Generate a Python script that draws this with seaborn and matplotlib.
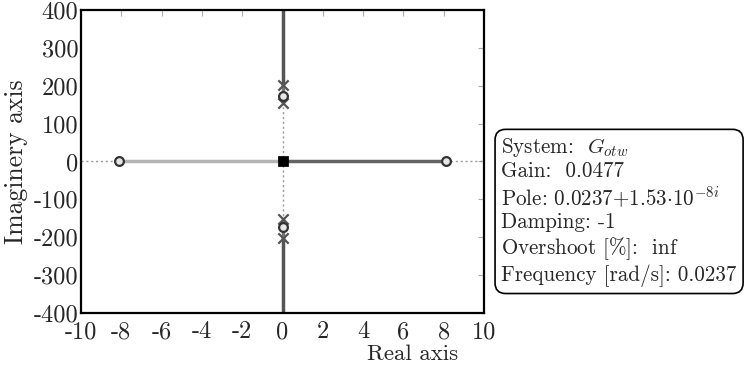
import matplotlib
matplotlib.use("Agg")
import matplotlib.pyplot as plt
import seaborn as sns
import pandas as pd

# Open-loop poles and zeros of G_otw
pole_re = [0.0, 0.0, 0.0, 0.0]
pole_im = [203.0, 153.0, -153.0, -203.0]
zero_re = [-8.1, 8.1, 0.0, 0.0]
zero_im = [0.0, 0.0, 174.0, -174.0]

# Root-locus branches (start/end points in the s-plane)
branch_names = ["left", "right", "up", "down", "up_a", "up_b", "down_a", "down_b"]
branch_re = [[0.0, -8.1], [0.0, 8.1], [0.0, 0.0], [0.0, 0.0],
             [0.0, 0.0], [0.0, 0.0], [0.0, 0.0], [0.0, 0.0]]
branch_im = [[0.0, 0.0], [0.0, 0.0], [203.0, 420.0], [-203.0, -420.0],
             [203.0, 174.0], [153.0, 174.0], [-153.0, -174.0], [-203.0, -174.0]]
branch_colors = ["#b4b4b4", "#636363", "#555555", "#555555",
                 "#777777", "#777777", "#777777", "#777777"]

# Selected closed-loop pole
sel_re = [0.0237]
sel_im = [1.53e-8]

x_ticks = [-10, -8, -6, -4, -2, 0, 2, 4, 6, 8, 10]
y_ticks = [-400, -300, -200, -100, 0, 100, 200, 300, 400]

info_lines = [
    r"System:  $G_{otw}$",
    "Gain:  0.0477",
    r"Pole: $0.0237{+}1.53{\cdot}10^{-8i}$",
    "Damping: -1",
    r"Overshoot [$\%$]:  inf",
    "Frequency [rad/s]: 0.0237",
]

sns.set_style("white")
plt.rcParams["font.family"] = ["cmr10"]
plt.rcParams["mathtext.fontset"] = "cm"
plt.rcParams["axes.unicode_minus"] = False
plt.rcParams["axes.formatter.use_mathtext"] = True

fig = plt.figure(figsize=(7.45, 3.69), dpi=100)
ax = fig.add_axes([0.1087, 0.152, 0.541, 0.821])

ax.axhline(0, color="#999999", lw=1, ls=(0, (1.5, 2)), zorder=1)
ax.axvline(0, color="#999999", lw=1, ls=(0, (1.5, 2)), zorder=1)

for name, bre, bim, col in zip(branch_names, branch_re, branch_im, branch_colors):
    df = pd.DataFrame({"re": bre, "im": bim})
    sns.lineplot(data=df, x="re", y="im", sort=False, estimator=None,
                 color=col, lw=2.5, ax=ax, zorder=2)

poles = pd.DataFrame({"re": pole_re, "im": pole_im})
zeros = pd.DataFrame({"re": zero_re, "im": zero_im})
sel = pd.DataFrame({"re": sel_re, "im": sel_im})

sns.scatterplot(data=poles, x="re", y="im", marker="x", s=55, color="#555555",
                linewidth=1.6, ax=ax, zorder=4)
sns.scatterplot(data=zeros, x="re", y="im", marker="o", s=40, facecolor="#e6e6e6",
                edgecolor="#333333", linewidth=1.6, ax=ax, zorder=4)
sns.scatterplot(data=sel, x="re", y="im", marker="s", s=45, color="black",
                edgecolor="black", ax=ax, zorder=5)

ax.set_xlim(-10, 10)
ax.set_ylim(-400, 400)
ax.set_xticks(x_ticks)
ax.set_yticks(y_ticks)
ax.set_xticklabels([str(t) for t in x_ticks])
ax.set_yticklabels([str(t) for t in y_ticks])
ax.tick_params(direction="in", length=4, width=0.8, color="#aaaaaa",
               labelsize=17.5, top=True, right=True)
ax.tick_params(axis="x", pad=6)
ax.tick_params(axis="y", pad=2)
for sp in ax.spines.values():
    sp.set_color("black")
    sp.set_linewidth(1.6)

ax.set_xlabel("Real axis", fontsize=16.5)
ax.xaxis.set_label_coords(0.823, -0.103)
ax.set_ylabel("Imaginery axis", fontsize=18.5)
ax.yaxis.set_label_coords(-0.132, 0.5)

fig.text(0.673, 0.427, "\n".join(info_lines), fontsize=15.2, va="center",
         ha="left", linespacing=1.17, family=["cmr10"],
         bbox=dict(boxstyle="round,pad=0.3,rounding_size=0.5", fc="white",
                   ec="black", lw=1.2))

ax.set_facecolor("white")
fig.savefig("out.png", dpi=100, facecolor="white")
